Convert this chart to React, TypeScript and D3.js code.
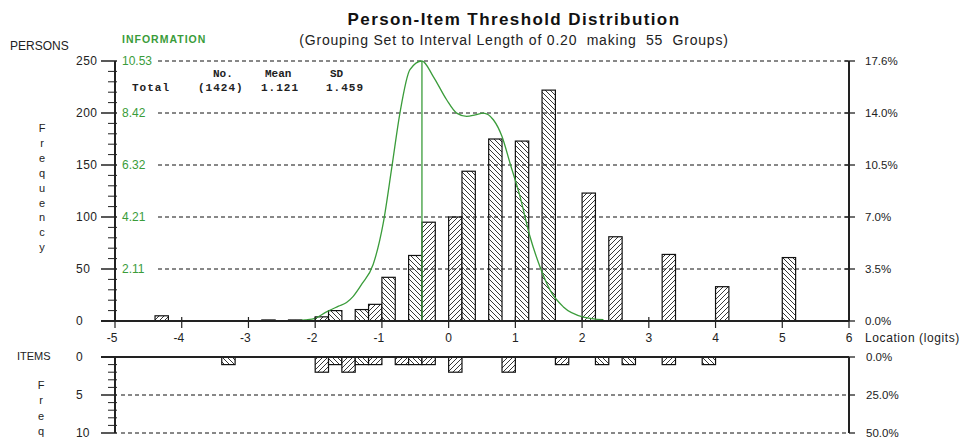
import React from "react";
import * as d3 from "d3";

// ---- data ----
const personBinStarts = [-4.4, -2.8, -2.4, -2.0, -1.8, -1.4, -1.2, -1.0, -0.6, -0.4, 0.0, 0.2, 0.6, 1.0, 1.4, 2.0, 2.4, 3.2, 4.0, 5.0];
const personCounts = [5, 1, 1, 4, 10, 11, 16, 42, 63, 95, 100, 144, 175, 173, 222, 123, 81, 64, 33, 61];
const itemBinStarts = [-3.4, -2.0, -1.8, -1.6, -1.4, -1.2, -0.8, -0.6, -0.4, 0.0, 0.8, 1.6, 2.2, 2.6, 3.2, 3.8];
const itemCounts = [1, 2, 1, 2, 1, 1, 1, 1, 1, 2, 2, 1, 1, 1, 1, 1];
const infoX = [-2.3, -2.15, -2.0, -1.83, -1.65, -1.53, -1.43, -1.3, -1.13, -0.98, -0.85, -0.73, -0.58, -0.40, -0.23, -0.03, 0.12, 0.27, 0.4, 0.52, 0.67, 0.8, 0.92, 1.07, 1.22, 1.37, 1.52, 1.72, 2.02, 2.32];
const infoY = [0.0, 0.04, 0.11, 0.37, 0.6, 0.75, 1.0, 1.5, 2.3, 3.96, 6.25, 8.42, 10.18, 10.53, 9.9, 8.96, 8.42, 8.29, 8.35, 8.42, 8.15, 7.47, 6.39, 5.04, 3.41, 2.19, 1.25, 0.57, 0.16, 0.05];
const xTicks = [-5, -4, -3, -2, -1, 0, 1, 2, 3, 4, 5, 6];
const personTicks = [0, 50, 100, 150, 200, 250];
const infoTickLabels = ["2.11", "4.21", "6.32", "8.42", "10.53"];
const personPctLabels = ["0.0%", "3.5%", "7.0%", "10.5%", "14.0%", "17.6%"];
const itemTicks = [0, 5, 10];
const itemPctLabels = ["0.0%", "25.0%", "50.0%"];
const statsHeader = ["No.", "Mean", "SD"];
const statsRow = ["Total", "(1424)", "1.121", "1.459"];
const titleText = "Person-Item Threshold Distribution";
const subtitleText = "(Grouping Set to Interval Length of 0.20  making  55  Groups)";
const binWidth = 0.2;
const infoMax = 10.53;
const peakLogit = -0.4;

const FONT = "'Liberation Sans', Arial, sans-serif";
const MONO = "'Liberation Mono', 'DejaVu Sans Mono', monospace";
const GREEN = "#3a9c3a";

export default function App() {
  const x = d3.scaleLinear().domain([-5, 6]).range([115, 849]);
  const yP = d3.scaleLinear().domain([0, 250]).range([321, 61]);
  const yInfo = d3.scaleLinear().domain([0, infoMax]).range([321, 61]);
  const yI = d3.scaleLinear().domain([0, 10]).range([357, 433]);

  const hatchId = (start: number) =>
    Math.round((start + 5) / binWidth) % 2 === 0 ? "url(#hatchB)" : "url(#hatchF)";

  const infoPts: [number, number][] = infoX.map((v, i) => [v, infoY[i]]);
  const infoLine = d3
    .line<[number, number]>()
    .x((d) => x(d[0]))
    .y((d) => yInfo(d[1]))
    .curve(d3.curveMonotoneX)(infoPts) as string;

  const minorP = d3.range(0, 251, 10);
  const minorI = d3.range(0, 11, 1);

  return (
    <svg
      width={962}
      height={439}
      style={{ position: "absolute", left: 0, top: 0, background: "#fff" }}
      fontFamily={FONT}
    >
      <defs>
        <pattern id="hatchB" patternUnits="userSpaceOnUse" width={5} height={5}>
          <rect width={5} height={5} fill="#fff" />
          <path d="M0,0 L5,5 M-1,4 L1,6 M4,-1 L6,1" stroke="#222" strokeWidth={0.9} />
        </pattern>
        <pattern id="hatchF" patternUnits="userSpaceOnUse" width={5} height={5}>
          <rect width={5} height={5} fill="#fff" />
          <path d="M0,5 L5,0 M-1,1 L1,-1 M4,6 L6,4" stroke="#222" strokeWidth={0.9} />
        </pattern>
      </defs>

      {/* titles */}
      <text x={514} y={25} textAnchor="middle" fontSize={17} fontWeight="bold" fill="#111" letterSpacing={1.4}>
        {titleText}
      </text>
      <text x={514} y={45} textAnchor="middle" fontSize={14} fill="#222" letterSpacing={0.8} style={{ whiteSpace: "pre" }}>
        {subtitleText}
      </text>
      <text x={10} y={50} fontSize={12} fill="#222">PERSONS</text>
      <text x={122} y={43} fontSize={10.5} fontWeight="bold" fill={GREEN} letterSpacing={1}>INFORMATION</text>

      {/* stats */}
      <g fontFamily={MONO} fontSize={11} fontWeight="bold" fill="#222">
        <text x={213} y={77}>{statsHeader[0]}</text>
        <text x={265} y={77}>{statsHeader[1]}</text>
        <text x={330} y={77}>{statsHeader[2]}</text>
        <text x={132} y={91} letterSpacing={1}>{statsRow[0]}</text>
        <text x={198} y={91} letterSpacing={1}>{statsRow[1]}</text>
        <text x={261} y={91} letterSpacing={1}>{statsRow[2]}</text>
        <text x={326} y={91} letterSpacing={1}>{statsRow[3]}</text>
      </g>

      {/* Frequency vertical label */}
      {"Frequency".split("").map((c, i) => (
        <text key={i} x={42} y={132 + i * 14.9} textAnchor="middle" fontSize={11} fill="#222">
          {c}
        </text>
      ))}

      {/* person bars */}
      {personBinStarts.map((s, i) => (
        <rect
          key={i}
          x={x(s)}
          y={yP(personCounts[i])}
          width={x(s + binWidth) - x(s)}
          height={yP(0) - yP(personCounts[i])}
          fill={hatchId(s)}
          stroke="#111"
          strokeWidth={1.2}
        />
      ))}

      {/* gridlines main */}
      {personTicks.filter((t) => t > 0).map((t) => (
        <line key={t} x1={158} x2={849} y1={yP(t)} y2={yP(t)} stroke="#111" strokeWidth={1} strokeDasharray="4,3" />
      ))}

      {/* info curve */}
      <line x1={x(peakLogit)} x2={x(peakLogit)} y1={yInfo(infoMax)} y2={yP(0)} stroke={GREEN} strokeWidth={1.3} />
      <path d={infoLine} fill="none" stroke={GREEN} strokeWidth={1.3} />

      {/* left axis main */}
      <line x1={115} x2={115} y1={61} y2={321} stroke="#222" strokeWidth={2} />
      {minorP.map((t) => (
        <line key={t} x1={t % 50 === 0 ? 101 : 108} x2={117} y1={yP(t)} y2={yP(t)} stroke="#222" strokeWidth={t % 50 === 0 ? 1.5 : 1} />
      ))}
      {personTicks.map((t) => (
        <text key={t} x={76} y={yP(t) + 4} fontSize={12} fill="#222" letterSpacing={0.5}>{t}</text>
      ))}
      {infoTickLabels.map((l, i) => (
        <text key={l} x={122} y={yP(personTicks[i + 1]) + 4} fontSize={12} fill={GREEN}>{l}</text>
      ))}

      {/* right axis main */}
      <line x1={849} x2={849} y1={61} y2={321} stroke="#222" strokeWidth={2} />
      {personTicks.map((t, i) => (
        <g key={t}>
          <line x1={845} x2={855} y1={yP(t)} y2={yP(t)} stroke="#222" strokeWidth={1.3} />
          <text x={865} y={yP(t) + 4} fontSize={11.5} fill="#222">{personPctLabels[i]}</text>
        </g>
      ))}

      {/* x axis main */}
      <line x1={101} x2={849} y1={321} y2={321} stroke="#222" strokeWidth={2} />
      {xTicks.map((t) => (
        <g key={t}>
          <line x1={x(t)} x2={x(t)} y1={317} y2={328} stroke="#222" strokeWidth={1.2} />
          <text x={x(t) + (t < 0 ? -3 : 0)} y={342} textAnchor="middle" fontSize={12} fill="#222">{t}</text>
        </g>
      ))}
      <text x={865} y={342} fontSize={12} fill="#222" letterSpacing={0.6}>Location (logits)</text>

      {/* items panel */}
      <text x={17} y={360} fontSize={11} fill="#222">ITEMS</text>
      {"Freq".split("").map((c, i) => (
        <text key={i} x={41} y={389 + i * 15.3} textAnchor="middle" fontSize={11} fill="#222">{c}</text>
      ))}
      {itemBinStarts.map((s, i) => (
        <rect
          key={i}
          x={x(s)}
          y={yI(0)}
          width={x(s + binWidth) - x(s)}
          height={yI(itemCounts[i]) - yI(0)}
          fill={hatchId(s)}
          stroke="#111"
          strokeWidth={1.2}
        />
      ))}
      {itemTicks.filter((t) => t > 0).map((t) => (
        <line key={t} x1={121} x2={849} y1={yI(t)} y2={yI(t)} stroke="#111" strokeWidth={1} strokeDasharray="4,3" />
      ))}
      <line x1={101} x2={849} y1={357} y2={357} stroke="#222" strokeWidth={2} />
      <line x1={115} x2={115} y1={357} y2={433} stroke="#222" strokeWidth={2} />
      <line x1={849} x2={849} y1={357} y2={433} stroke="#222" strokeWidth={2} />
      {minorI.map((t) => (
        <line key={t} x1={t % 5 === 0 ? 101 : 108} x2={117} y1={yI(t)} y2={yI(t)} stroke="#222" strokeWidth={t % 5 === 0 ? 1.5 : 1} />
      ))}
      {itemTicks.map((t, i) => (
        <g key={t}>
          <text x={76} y={yI(t) + 4} fontSize={12} fill="#222">{t}</text>
          <line x1={849} x2={855} y1={yI(t)} y2={yI(t)} stroke="#222" strokeWidth={1.3} />
          <text x={866} y={yI(t) + 4} fontSize={11.5} fill="#222">{itemPctLabels[i]}</text>
        </g>
      ))}
    </svg>
  );
}
